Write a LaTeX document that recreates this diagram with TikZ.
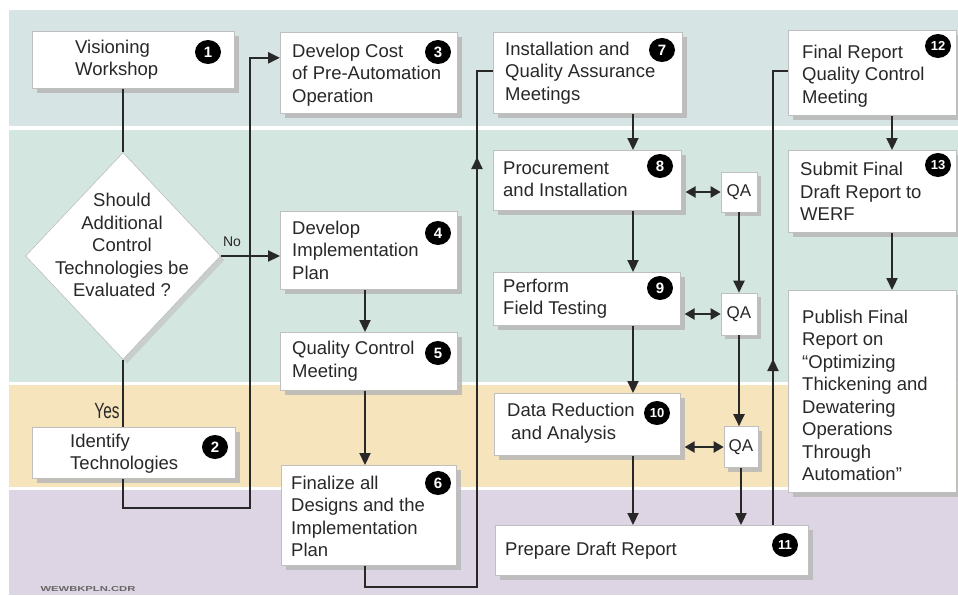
\documentclass[tikz,border=0pt]{standalone}
\usepackage{fontspec}
\setmainfont{Liberation Sans}
\usetikzlibrary{arrows.meta,shapes.geometric,shadows,calc}
\definecolor{bandA}{RGB}{214,228,228}
\definecolor{bandB}{RGB}{211,230,224}
\definecolor{bandC}{RGB}{246,228,188}
\definecolor{bandD}{RGB}{222,213,228}
\definecolor{ink}{RGB}{40,40,40}
\begin{document}
\begin{tikzpicture}[x=1pt,y=-1pt,
  box/.style={draw=black!25, line width=0.6pt, fill=white, inner sep=0pt, anchor=north west,
    drop shadow={shadow xshift=5pt, shadow yshift=-5pt, fill=black!28, opacity=0.85}},
  txt/.style={anchor=west, align=left, inner sep=0pt, text=ink,
    font=\fontsize{18.5}{22.5}\selectfont},
  num/.style={ellipse, fill=black, text=white, inner sep=0pt, minimum width=26pt, minimum height=24pt,
    font=\bfseries\fontsize{15}{15}\selectfont},
  qa/.style={draw=black!25, line width=0.6pt, fill=white, inner sep=0pt, minimum width=36pt,
    minimum height=40pt, text=ink, font=\fontsize{17}{17}\selectfont,
    drop shadow={shadow xshift=4pt, shadow yshift=-4pt, fill=black!28, opacity=0.85}},
  line/.style={draw=ink, line width=2.2pt},
  arr/.style={line, -{Triangle[length=12pt,width=11pt]}},
  darr/.style={line, {Triangle[length=10pt,width=11pt]}-{Triangle[length=10pt,width=11pt]}},
  lbl/.style={inner sep=0pt, text=ink}
]
\useasboundingbox (0,0) rectangle (958,595);
\fill[white] (0,0) rectangle (958,595);
% bands
\fill[bandA] (9,10) rectangle (958,126);
\fill[bandB] (9,130) rectangle (958,382);
\fill[bandC] (9,385) rectangle (958,487);
\fill[bandD] (9,490) rectangle (958,595);

% boxes
\node[box, minimum width=202pt, minimum height=57pt] (b1) at (32,31) {};
\node[box, minimum width=177pt, minimum height=81pt] (b3) at (280,32) {};
\node[box, minimum width=177pt, minimum height=78pt] (b4) at (280,211) {};
\node[box, minimum width=177pt, minimum height=58pt] (b5) at (280,332) {};
\node[box, minimum width=203pt, minimum height=51pt] (b2) at (32,427) {};
\node[box, minimum width=175pt, minimum height=100pt] (b6) at (281,465) {};
\node[box, minimum width=189pt, minimum height=81pt] (b7) at (493,32) {};
\node[box, minimum width=188pt, minimum height=60pt] (b8) at (493,150) {};
\node[box, minimum width=187pt, minimum height=53pt] (b9) at (493,272) {};
\node[box, minimum width=186pt, minimum height=62pt] (b10) at (494,393) {};
\node[box, minimum width=313pt, minimum height=50pt] (b11) at (495,525) {};
\node[box, minimum width=168pt, minimum height=85pt] (b12) at (788,30) {};
\node[box, minimum width=168pt, minimum height=82pt] (b13) at (788,150) {};
\node[box, minimum width=168pt, minimum height=202pt] (b14) at (788,290) {};
\node[diamond, draw=black!25, line width=0.6pt, fill=white, inner sep=0pt,
  minimum width=195pt, minimum height=207pt,
  drop shadow={shadow xshift=4pt, shadow yshift=-4pt, fill=black!25, opacity=0.6}] (d) at (123,256) {};

\node[qa] (q1) at (739,192) {QA};
\node[qa, minimum height=42pt] (q2) at (739,314) {QA};
\node[qa, minimum width=34pt, minimum height=41pt] (q3) at (741,447) {QA};

% texts
\node[txt] (t1) at ($(b1.west)+(43,0)$) {Visioning\\Workshop};
\node[txt] (t3) at ($(b3.west)+(12,2)$) {Develop Cost\\of Pre-Automation\\Operation};
\node[txt] (t4) at ($(b4.west)+(12,0)$) {Develop\\Implementation\\Plan};
\node[txt] (t5) at ($(b5.west)+(12,0)$) {Quality Control\\Meeting};
\node[txt] (t2) at ($(b2.west)+(38,1)$) {Identify\\Technologies};
\node[txt] (t6) at ($(b6.west)+(10,1)$) {Finalize all\\Designs and the\\Implementation\\Plan};
\node[txt] (t7) at ($(b7.west)+(12,0)$) {Installation and\\Quality Assurance\\Meetings};
\node[txt] (t8) at ($(b8.west)+(10,-1)$) {Procurement\\and Installation};
\node[txt] (t9) at ($(b9.west)+(10,0)$) {Perform\\Field Testing};
\node[txt] (t10) at ($(b10.west)+(13,-1)$) {Data Reduction\\\hspace*{4pt}and Analysis};
\node[txt] (t11) at ($(b11.west)+(10,0)$) {Prepare Draft Report};
\node[txt] (t12) at ($(b12.west)+(14,3)$) {Final Report\\Quality Control\\Meeting};
\node[txt] (t13) at ($(b13.west)+(12,0)$) {Submit Final\\Draft Report to\\WERF};
\node[txt] (t14) at ($(b14.west)+(14,4)$) {Publish Final\\Report on\\“Optimizing\\Thickening and\\Dewatering\\Operations\\Through\\Automation”};
\node[txt, align=center, anchor=center] (td) at (122,245) {Should\\Additional\\Control\\Technologies be\\Evaluated ?};

% numbers
\node[num] (c1) at (208,52) {1};
\node[num] (c3) at (438,52) {3};
\node[num] (c4) at (438,233) {4};
\node[num] (c5) at (438,353) {5};
\node[num] (c2) at (215,447) {2};
\node[num] (c6) at (438,483) {6};
\node[num] (c7) at (662,50) {7};
\node[num] (c8) at (660,166) {8};
\node[num] (c9) at (660,288) {9};
\node[num, font=\bfseries\fontsize{13}{13}\selectfont] (c10) at (657,413) {10};
\node[num, font=\bfseries\fontsize{13}{13}\selectfont] (c11) at (785,545) {11};
\node[num, font=\bfseries\fontsize{13}{13}\selectfont] (c12) at (938,46) {12};
\node[num, font=\bfseries\fontsize{13}{13}\selectfont] (c13) at (938,165) {13};

% labels
\node[lbl, font=\fontsize{14}{14}\selectfont] (lno) at (232,242) {No};
\node[lbl, font=\fontsize{22}{22}\selectfont] (lyes) at (107,411) {\scalebox{0.7}[1]{Yes}};
\node[lbl, text=black!60, font=\bfseries\fontsize{9}{9}\selectfont] (lfile) at (88,589) {\scalebox{1.25}[0.8]{WEWBKPLN.CDR}};

% connectors left
\draw[line] (d.north |- b1.south) -- (d.north);
\draw[arr] (d.east) -- (d.east -| b4.west);
\draw[line] (d.south) -- (d.south |- b2.north);
\coordinate (j1) at (250,508);
\draw[arr] (d.south |- b2.south) |- (j1) |- ($(b3.west)+(0,-15)$);
\coordinate (x4) at (365,0);
\draw[arr] (x4 |- b4.south) -- (x4 |- b5.north);
\draw[arr] (x4 |- b5.south) -- (x4 |- b6.north);
\coordinate (j2) at (477,587);
\draw[line] (x4 |- b6.south) |- (j2) |- ($(b7.west)+(0,-2)$);
\coordinate (m1) at (477,175);
\coordinate (m2) at (477,157);
\draw[arr] (m1) -- (m2);

% middle column
\coordinate (x7) at (633,0);
\draw[arr] (x7 |- b7.south) -- (x7 |- b8.north);
\draw[arr] (x7 |- b8.south) -- (x7 |- b9.north);
\draw[arr] (x7 |- b9.south) -- (x7 |- b10.north);
\draw[arr] (x7 |- b10.south) -- (x7 |- b11.north);
\draw[darr] ($(b8.east |- q1.west)+(4,0)$) -- (q1.west);
\draw[darr] ($(b9.east |- q2.west)+(4,0)$) -- (q2.west);
\draw[darr] ($(b10.east |- q3.west)+(4,0)$) -- (q3.west);
\draw[arr] (q1.south) -- (q2.north);
\draw[arr] (q2.south) -- (q2.south |- q3.north);
\draw[arr] (q3.south) -- (q3.south |- b11.north);

% right column
\coordinate (x11) at (773,0);
\draw[line] (x11 |- b11.north) |- ($(b12.west)+(0,-2)$);
\coordinate (m3) at (773,378);
\coordinate (m4) at (773,359);
\draw[arr] (m3) -- (m4);
\coordinate (x12) at (892,0);
\draw[arr] (x12 |- b12.south) -- (x12 |- b13.north);
\draw[arr] (x12 |- b13.south) -- (x12 |- b14.north);
\end{tikzpicture}
\end{document}
